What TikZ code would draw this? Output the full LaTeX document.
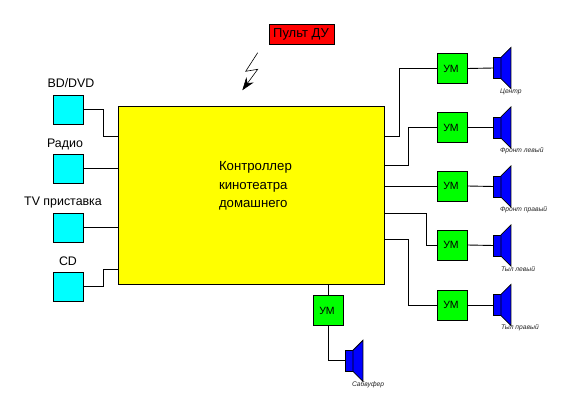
\documentclass[tikz,border=0pt]{standalone}
\usepackage{fontspec}
\setmainfont{Liberation Sans}
\usetikzlibrary{arrows.meta}
\definecolor{pcyan}{RGB}{0,255,255}
\definecolor{pyellow}{RGB}{255,255,0}
\definecolor{pgreen}{RGB}{0,255,0}
\definecolor{pblue}{RGB}{0,0,255}
\definecolor{pred}{RGB}{255,0,0}
\tikzset{
  x=1pt,y=-1pt,
  every node/.style={inner sep=0pt,outer sep=0pt},
  wire/.style={draw=black,line width=0.9pt},
  boxbase/.style={draw=black,line width=0.9pt,anchor=north west},
  srcbox/.style={boxbase,fill=pcyan,minimum width=30.5pt,minimum height=29pt},
  ampbox/.style={boxbase,fill=pgreen,minimum width=30pt,minimum height=30pt,font=\fontsize{10.5}{13}\selectfont},
  mainbox/.style={boxbase,fill=pyellow,minimum width=266pt,minimum height=178pt},
  remotebox/.style={boxbase,fill=pred,minimum width=65pt,minimum height=20pt,font=\fontsize{13}{15}\selectfont},
  srclabel/.style={font=\fontsize{12.4}{14}\selectfont},
  spklabel/.style={anchor=west,font=\fontsize{6.7}{8}\selectfont\itshape,text=black!85},
  spkbody/.style={draw=black,line width=0.8pt,fill=pblue,anchor=north west,minimum width=7.4pt,minimum height=21pt},
  spkcone/.style={draw=black,line width=0.8pt,fill=pblue,line join=miter},
}
\newcommand{\spk}[3]{%
  \node[spkbody] (#1) at (#2,#3) {};
  \path[spkcone] (#1.north east) -- ++(10,-10) -- ++(0,41) -- (#1.south east) -- cycle;
}
\begin{document}
\begin{tikzpicture}
\useasboundingbox (0,0) rectangle (570,412);
\fill[white] (0,0) rectangle (570,412);

\node[mainbox] (main) at (118.5,106) {};
\node[anchor=north west,align=left,font=\fontsize{13.2}{18.5}\selectfont] (title) at (219,161.7) {Контроллер\\кинотеатра\\домашнего};

\node[remotebox] (remote) at (269.5,24.5) {Пульт ДУ\kern2pt};
\coordinate (z1) at (257.7,52.7);
\coordinate (z2) at (245.7,71.3);
\coordinate (z3) at (257.7,69.3);
\coordinate (z4) at (242.3,90.3);
\draw[line width=0.6pt,-{Stealth[length=13pt,width=9pt]}] (z1) -- (z2) -- (z3) -- (z4);

% sources
\node[srcbox] (s1) at (53,95) {};
\node[srcbox] (s2) at (53,154) {};
\node[srcbox] (s3) at (53,213) {};
\node[srcbox] (s4) at (53,272) {};
\node[srclabel] (l1) at (71,83.5) {BD/DVD};
\node[srclabel] (l2) at (65,144) {Радио};
\node[srclabel] (l3) at (63,203) {TV приставка};
\node[srclabel] (l4) at (68,261) {CD};

\coordinate (in1) at (118.5,136);
\coordinate (in4) at (118.5,269);
\draw[wire] (s1.east) -- ++(20,0) |- (in1);
\draw[wire] (s2.east) -- (s2.east -| main.west);
\draw[wire] (s3.east) -- (s3.east -| main.west);
\draw[wire] (s4.east) -- ++(20,0) |- (in4);

% amplifiers
\node[ampbox] (a1) at (437.5,53.5) {УМ\kern3pt};
\node[ampbox] (a2) at (437.5,112.5) {УМ\kern3pt};
\node[ampbox] (a3) at (437.5,171) {УМ\kern3pt};
\node[ampbox] (a4) at (437.5,230) {УМ\kern3pt};
\node[ampbox] (a5) at (437.5,290) {УМ\kern3pt};
\node[ampbox] (a6) at (313.5,295.5) {УМ\kern3pt};

\coordinate (o1) at (384.5,136);
\coordinate (o2) at (384.5,165);
\coordinate (o4) at (384.5,213);
\coordinate (o5) at (384.5,239);
\draw[wire] (o1) -- ++(15,0) |- (a1.west);
\draw[wire] (o2) -- ++(24,0) |- (a2.west);
\draw[wire] (a3.west -| main.east) -- (a3.west);
\draw[wire] (o4) -- ++(42,0) |- (a4.west);
\draw[wire] (o5) -- ++(24,0) |- (a5.west);
\draw[wire] (a6.north |- main.south) -- (a6.north);

% speakers
\spk{k1}{493.5}{57.5}
\spk{k2}{493.5}{117}
\spk{k3}{493.5}{176}
\spk{k4}{493.5}{235}
\spk{k5}{493.5}{294.5}
\spk{k6}{345.5}{350.3}
\draw[wire] (a1.east) -- (k1.west);
\draw[wire] (a2.east) -- (k2.west);
\draw[wire] (a3.east) -- (k3.west);
\draw[wire] (a4.east) -- (k4.west);
\draw[wire] (a5.east) -- (k5.west);
\draw[wire] (a6.south) |- (k6.west);

\node[spklabel] (t1) at (500,92) {Центр};
\node[spklabel] (t2) at (500,151) {Фронт левый};
\node[spklabel] (t3) at (500,210) {Фронт правый};
\node[spklabel] (t4) at (501,269) {Тыл левый};
\node[spklabel] (t5) at (501,328) {Тыл правый};
\node[spklabel] (t6) at (352,385) {Сабвуфер};
\end{tikzpicture}
\end{document}
